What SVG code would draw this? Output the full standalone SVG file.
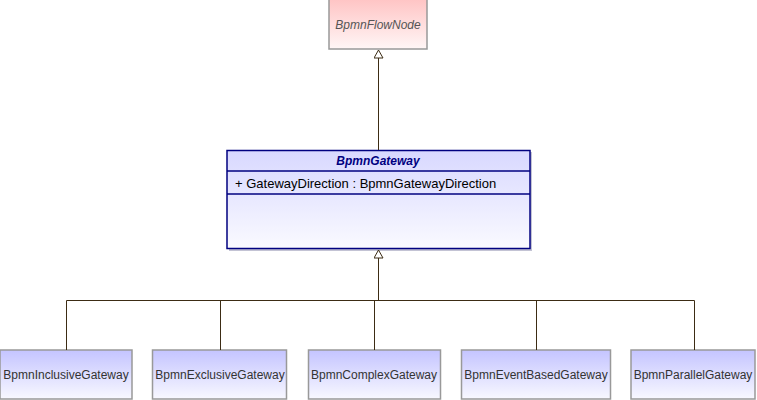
<svg xmlns="http://www.w3.org/2000/svg" width="757" height="400" viewBox="0 0 757 400">
<defs>
<linearGradient id="gRed" x1="0" y1="0" x2="0" y2="1"><stop offset="0" stop-color="#FFC4C4"/><stop offset="1" stop-color="#FFF6F6"/></linearGradient>
<linearGradient id="gBlue" x1="0" y1="0" x2="0" y2="1"><stop offset="0" stop-color="#C4C4FF"/><stop offset="1" stop-color="#F8F8FF"/></linearGradient>
<linearGradient id="gBlue2" x1="0" y1="0" x2="0" y2="1"><stop offset="0" stop-color="#D8D8FF"/><stop offset="1" stop-color="#FAFAFF"/></linearGradient>
<marker id="tri" markerWidth="10" markerHeight="10" refX="9" refY="5" orient="auto" markerUnits="userSpaceOnUse" viewBox="0 0 10 10">
<path d="M9,5 L1,0.5 L1,9.5 Z" fill="#fff" stroke="#3C2C14" stroke-width="1"/>
</marker>
<style>
.leaf rect{fill:url(#gBlue);stroke:#999;stroke-width:1.5}
.leaf text{font-family:"Liberation Sans",Arial,sans-serif;font-size:12px;fill:#333;text-anchor:middle}
.conn path{fill:none;stroke:#3C2C14;stroke-width:1}
</style>
</defs>
<g id="BpmnFlowNode">
<rect x="329" y="-1" width="98" height="50" fill="url(#gRed)" stroke="#999" stroke-width="1.5"/>
<text x="378" y="29" font-family="'Liberation Sans',Arial,sans-serif" font-size="12" font-style="italic" fill="#555" text-anchor="middle">BpmnFlowNode</text>
</g>
<g id="BpmnGateway">
<rect x="229" y="152" width="303" height="99" fill="#8888AA" opacity="0.5"/>
<rect x="227" y="150.5" width="303" height="98" fill="url(#gBlue2)" stroke="#000080" stroke-width="1.5"/>
<line x1="227" y1="171" x2="530" y2="171" stroke="#000080" stroke-width="1.5"/>
<line x1="227" y1="194" x2="530" y2="194" stroke="#000080" stroke-width="1.5"/>
<text x="378" y="165" font-family="'Liberation Sans',Arial,sans-serif" font-size="12" font-style="italic" font-weight="bold" fill="#000080" text-anchor="middle">BpmnGateway</text>
<text x="235" y="188" font-family="'Liberation Sans',Arial,sans-serif" font-size="13" fill="#000">+ GatewayDirection : BpmnGatewayDirection</text>
</g>
<g class="leaf" id="BpmnInclusiveGateway"><rect x="0" y="350" width="132" height="49"/><text x="66" y="379">BpmnInclusiveGateway</text></g>
<g class="leaf" id="BpmnExclusiveGateway"><rect x="152.5" y="350" width="134" height="49"/><text x="220" y="379">BpmnExclusiveGateway</text></g>
<g class="leaf" id="BpmnComplexGateway"><rect x="308.5" y="350" width="132" height="49"/><text x="374" y="379">BpmnComplexGateway</text></g>
<g class="leaf" id="BpmnEventBasedGateway"><rect x="461.5" y="350" width="149" height="49"/><text x="536" y="379">BpmnEventBasedGateway</text></g>
<g class="leaf" id="BpmnParallelGateway"><rect x="631" y="350" width="124" height="49"/><text x="693" y="379">BpmnParallelGateway</text></g>
<g class="conn">
<path d="M378.5,150 V50" marker-end="url(#tri)"/>
<path d="M378.5,300.5 V250" marker-end="url(#tri)"/>
<path d="M66.5,350 V300.5 H694.5 V350"/>
<path d="M220.5,300.5 V350"/>
<path d="M374.5,300.5 V350"/>
<path d="M536.5,300.5 V350"/>
</g>
</svg>
